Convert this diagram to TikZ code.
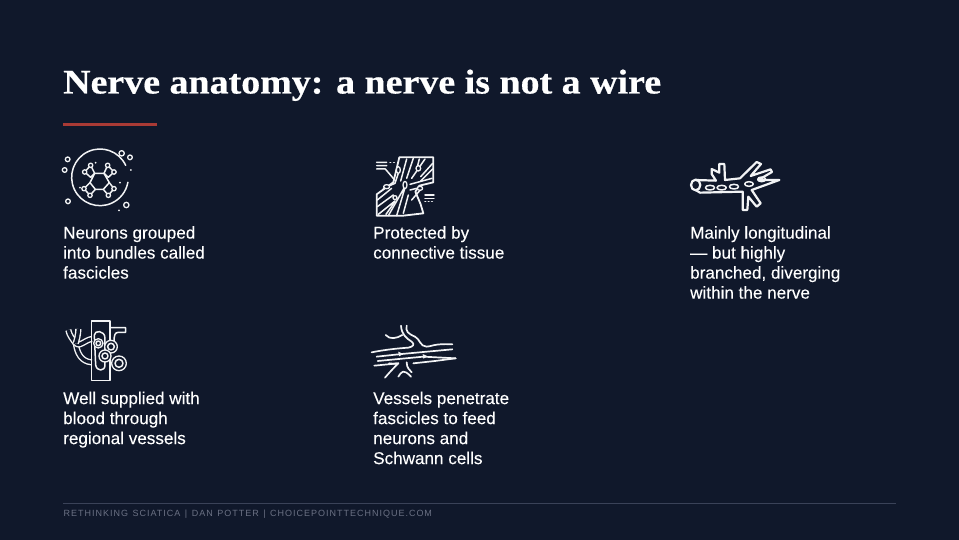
\documentclass[tikz,border=0pt]{standalone}
\usepackage{fontspec}
\setmainfont[FakeBold=0.1]{Liberation Sans}
\newfontfamily\titlefont[FakeStretch=1.1,FakeBold=0.5,UprightFont=* Bold]{Liberation Serif}
\newfontfamily\footfont[LetterSpace=11,WordSpace=1.3]{Liberation Sans}
\definecolor{bgc}{HTML}{10182B}
\definecolor{redbar}{HTML}{A93A35}
\definecolor{footc}{HTML}{6B7184}
\definecolor{footl}{HTML}{3A4258}
\definecolor{ink}{HTML}{F2F3F5}
\tikzset{
  body/.style={anchor=north west,inner sep=0pt,align=left,text=white,font=\fontsize{17.1}{20}\selectfont},
  zoomed/.style={x=0.3333pt,y=-0.3333pt,line width=1.5pt,draw=ink,line cap=round,line join=round},
  dotc/.style={draw=ink,line width=1.3pt,fill=bgc},
  tube/.style={draw=ink,line width=1.4pt,double=bgc,double distance=3.4pt,line cap=butt},
}
\begin{document}
\begin{tikzpicture}[x=1pt,y=-1pt]
\useasboundingbox (0,0) rectangle (959,540);
\fill[bgc] (0,0) rectangle (959,540);
\node[anchor=base west,inner sep=0pt,text=white,font=\fontsize{34.5}{40}\selectfont\titlefont] (title) at (63,93.5) {Nerve anatomy: a nerve is not a wire};
\fill[redbar] (63,123) rectangle (157,126);

\node[body] (t1) at (63,226) {Neurons grouped\\into bundles called\\fascicles};
\node[body] (t2) at (373,226) {Protected by\\connective tissue};
\node[body] (t3) at (690,226) {Mainly longitudinal\\— but highly\\branched, diverging\\within the nerve};
\node[body] (t4) at (63,391.5) {Well supplied with\\blood through\\regional vessels};
\node[body] (t5) at (373,391.5) {Vessels penetrate\\fascicles to feed\\neurons and\\Schwann cells};

\draw[footl,line width=1pt] (63,503) -- (896,503);
\node[anchor=base west,inner sep=0pt,text=footc,font=\fontsize{9}{10}\selectfont\footfont] (foot) at (63.5,516.5) {RETHINKING SCIATICA | DAN POTTER | CHOICEPOINTTECHNIQUE.COM};

% icon 1
\begin{scope}[shift={(50,140)},zoomed]
\draw (150,112) ++(-25:85) arc (-25:-350:85);
\foreach \x/\y/\r in {215/40/8,240/52/7,53/58/7,44/90/7,54/184/7,229/195/8}
  \draw[dotc] (\x,\y) circle (\r);
\foreach \x/\y in {207/211,243/90,210/128,137/68,90/143}
  \fill[ink] (\x,\y) circle (3);
\draw (134,100)--(162,100)--(178,128)--(160,148)--(136,148)--(120,128)--cycle;
\draw (122,76)--(134,100)--(122,112)--(104,96)--cycle;
\draw (173,76)--(162,100)--(175,112)--(192,96)--cycle;
\draw (120,128)--(102,146)--(120,166)--(136,148);
\draw (178,128)--(192,146)--(175,166)--(160,148);
\foreach \x/\y in {122/76,104/96,173/76,192/96,102/146,120/166,192/146,175/166}
  \draw[dotc] (\x,\y) circle (6.5);
\end{scope}

% icon 2
\begin{scope}[shift={(360,145)},zoomed]
\draw[line width=1.8pt] (118,37)--(220,37)--(220,112)--(178,122)--(166,140)--(182,178)--(190,205)--(130,212)--(50,212)--(50,148)--(100,112)--cycle;
\draw (50,52)--(80,52) (50,62)--(80,62) (50,72)--(76,72)--(104,105);
\draw (90,52)--(92,52) (101,52)--(103,52);
\draw (195,150)--(222,150) (195,160)--(222,160);
\draw (195,170)--(197,170) (205,170)--(207,170) (215,170)--(217,170);
\draw (140,42)--(122,108) (160,40)--(140,100) (178,42)--(172,66) (195,42)--(155,100) (218,55)--(182,95) (218,72)--(182,108);
\draw (115,85)--(105,115)--(70,130) (135,128)--(110,212) (133,128)--(85,212) (150,118)--(216,100);
\draw (52,165)--(95,130) (52,185)--(100,150) (55,208)--(105,168) (78,208)--(105,170);
\draw (150,135)--(170,130) (145,150)--(130,205) (185,130)--(155,165);
\foreach \x/\y/\ra/\rb in {115/75/6/10,135/120/6/11,175/70/7/8,180/130/8/6,80/125/9/6,105/158/6/6}
  \draw[dotc] (\x,\y) ellipse [x radius=\ra,y radius=\rb];
\end{scope}

% icon 3
\begin{scope}[shift={(680,150)},zoomed]
\draw[line width=2.2pt] (47,90) -- (108,92) -- (95,72) -- (95,57) -- (118,68) -- (118,42) -- (133,42) -- (135,90) -- (180,85) -- (230,36) -- (243,42) -- (212,78) -- (272,58) -- (276,66) -- (235,90) -- (298,90) -- (215,120) -- (242,160) -- (230,170) -- (205,140) -- (202,180) -- (188,180) -- (188,125) -- (60,128) -- (47,120);
\draw[line width=2.2pt] (47,105) ellipse [x radius=14,y radius=16];
\foreach \x/\y/\ra in {90/113/14,125/113/14,162/110/14,207/102/13,245/88/12}
  \draw (\x,\y) ellipse [x radius=\ra,y radius=7];
\end{scope}

% icon 4
\begin{scope}[shift={(55,315)},zoomed]
\draw[tube] (62,80) .. controls (65,115) and (80,140) .. (110,142);
\draw[tube] (110,72) .. controls (90,75) and (70,100) .. (62,82);
\draw[tube] (40,45) .. controls (42,60) and (55,75) .. (62,85);
\draw[tube] (70,42) .. controls (70,60) and (65,75) .. (62,85);
\draw (118,60) .. controls (118,45) and (150,45) .. (150,70) -- (150,150) .. controls (150,170) and (125,170) .. (122,150) -- cycle;
\draw (165,38)--(212,38)--(212,52)--(190,52) .. controls (180,52) and (177,60) .. (177,82);
\draw (110,18) rectangle (165,197);
\foreach \x/\y/\r/\s in {130/85/14/7,168/95/19/10,150/123/18/9,192/145/22/12}{
  \draw[dotc] (\x,\y) circle (\r);
  \draw (\x,\y) circle (\s);
}
\end{scope}

% icon 5
\begin{scope}[shift={(365,315)},zoomed]
\begin{scope}[line width=1.7pt]
\draw (20,112) .. controls (60,104) and (100,100) .. (130,98) .. controls (145,95) and (150,88) .. (140,80) .. controls (125,70) and (110,60) .. (108,32);
\draw (62,60) .. controls (75,75) and (95,70) .. (112,60);
\draw (125,32) .. controls (122,50) and (128,55) .. (150,65) .. controls (165,72) and (165,95) .. (185,95) .. controls (200,95) and (205,85) .. (262,88);
\draw (35,125) -- (110,117) -- (262,103);
\draw (38,138) -- (175,125) -- (272,130) ;
\draw (28,152) -- (100,145) .. controls (85,160) and (80,165) .. (60,188);
\draw (100,145) .. controls (90,145) and (80,148) .. (72,145);
\draw (100,185) .. controls (110,170) and (115,160) .. (138,185);
\draw (145,145) -- (210,138) -- (272,130);
\draw (125,142) .. controls (125,160) and (135,165) .. (140,172);
\end{scope}
\fill[ink] (115,117) -- (100,110) -- (102,124) -- cycle;
\fill[ink] (188,124) -- (173,117) -- (175,131) -- cycle;
\end{scope}
\end{tikzpicture}
\end{document}
